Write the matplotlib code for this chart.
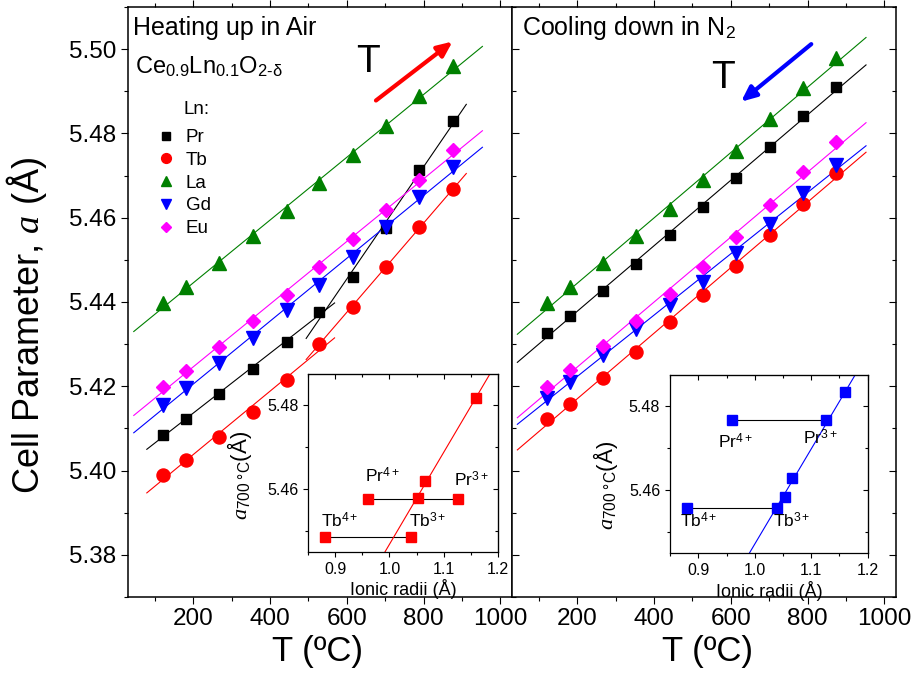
import matplotlib
matplotlib.use("Agg")
import matplotlib.pyplot as plt
import numpy as np
from matplotlib.ticker import MultipleLocator

plt.rcParams["font.family"] = ["Liberation Sans", "DejaVu Sans"]
plt.rcParams["mathtext.fontset"] = "custom"
plt.rcParams["mathtext.rm"] = "Liberation Sans"
plt.rcParams["mathtext.it"] = "Liberation Serif:italic"
plt.rcParams["mathtext.sf"] = "Liberation Sans"
plt.rcParams["mathtext.bf"] = "Liberation Sans:bold"

# heating up in air
t_heat = [120, 181, 266, 355, 444, 527, 616, 702, 789, 877]
pr_heat = [5.4084, 5.4122, 5.4182, 5.4241, 5.4306, 5.4375, 5.4460, 5.4576, 5.4713, 5.4830]
tb_heat = [5.3989, 5.4025, 5.4080, 5.4140, 5.4215, 5.4300, 5.4389, 5.4484, 5.4579, 5.4667]
la_heat = [5.4398, 5.4435, 5.4492, 5.4557, 5.4616, 5.4683, 5.4749, 5.4818, 5.4889, 5.4960]
gd_heat = [5.4156, 5.4195, 5.4255, 5.4315, 5.4381, 5.4440, 5.4507, 5.4579, 5.4650, 5.4721]
eu_heat = [5.4198, 5.4237, 5.4294, 5.4356, 5.4417, 5.4482, 5.4549, 5.4618, 5.4689, 5.4761]

# cooling down in N2
t_cool = [120, 180, 267, 354, 441, 527, 614, 701, 788, 875]
pr_cool = [5.4327, 5.4367, 5.4427, 5.4490, 5.4559, 5.4625, 5.4695, 5.4768, 5.4841, 5.4909]
tb_cool = [5.4122, 5.4158, 5.4219, 5.4282, 5.4352, 5.4417, 5.4486, 5.4559, 5.4633, 5.4705]
la_cool = [5.4397, 5.4435, 5.4492, 5.4557, 5.4620, 5.4689, 5.4758, 5.4834, 5.4907, 5.4978]
gd_cool = [5.4173, 5.4211, 5.4274, 5.4336, 5.4393, 5.4448, 5.4516, 5.4585, 5.4658, 5.4725]
eu_cool = [5.4199, 5.4239, 5.4296, 5.4356, 5.4418, 5.4484, 5.4555, 5.4630, 5.4709, 5.4780]

# ionic radii (A), 8-fold coordination
r_pr4, r_pr3 = 0.96, 1.126
r_tb4, r_tb3 = 0.88, 1.04
r_la, r_gd, r_eu = 1.16, 1.053, 1.066
i700 = 7  # index of the ~700 C point

series = [("Pr", "s", "black", 7.4), ("Tb", "o", "red", 9.4), ("La", "^", "#008000", 10),
          ("Gd", "v", "blue", 10), ("Eu", "D", "magenta", 7)]


def fit_line(ax, t, y, t0, t1, color):
    p = np.polyfit(t, y, 1)
    tt = np.array([t0, t1])
    ax.plot(tt, np.polyval(p, tt), color=color, lw=0.8, zorder=2)


def style_main(ax):
    ax.set_xlim(30, 1030)
    ax.set_ylim(5.37, 5.51)
    ax.xaxis.set_major_locator(MultipleLocator(200))
    ax.xaxis.set_minor_locator(MultipleLocator(100))
    ax.yaxis.set_major_locator(MultipleLocator(0.02))
    ax.yaxis.set_minor_locator(MultipleLocator(0.01))
    ax.xaxis.set_major_formatter(plt.FuncFormatter(lambda v, p: f"{v:.0f}"))
    ax.yaxis.set_major_formatter(plt.FuncFormatter(lambda v, p: f"{v:.2f}"))
    ax.tick_params(axis="x", which="both", direction="out", top=True, labelsize=17.5, width=0.8)
    ax.tick_params(which="major", length=4.8)
    ax.tick_params(which="minor", length=2.9)
    for s in ax.spines.values():
        s.set_linewidth(1.1)
    ax.set_xlabel("T (ºC)", fontsize=25)


def inset(fig, rect, a_pr, a_tb, a_la, a_gd, a_eu, color, labpos):
    ax = fig.add_axes(rect)
    ax.plot([r_pr4, r_pr3], [a_pr, a_pr], color="black", lw=0.8, zorder=2)
    ax.plot([r_tb4, r_tb3], [a_tb, a_tb], color="black", lw=0.8, zorder=2)
    rr = [r_gd, r_eu, r_la]
    p = np.polyfit(rr, [a_gd, a_eu, a_la], 1)
    xx = np.array([0.85, 1.2])
    ax.plot(xx, np.polyval(p, xx), color=color, lw=0.8, zorder=2)
    ax.plot([r_pr4, r_pr3, r_tb4, r_tb3, r_gd, r_eu, r_la],
            [a_pr, a_pr, a_tb, a_tb, a_gd, a_eu, a_la],
            "s", color=color, ms=7, mec=color, zorder=3, clip_on=False)
    for txt, (x, y) in zip(["Pr$^{4+}$", "Pr$^{3+}$", "Tb$^{4+}$", "Tb$^{3+}$"], labpos):
        ax.text(x, y, txt, fontsize=12.5, ha="left", va="baseline")
    ax.set_xlim(0.85, 1.2)
    ax.set_ylim(5.445, 5.4875)
    ax.xaxis.set_major_locator(MultipleLocator(0.1))
    ax.xaxis.set_minor_locator(MultipleLocator(0.05))
    ax.yaxis.set_major_locator(MultipleLocator(0.02))
    ax.yaxis.set_minor_locator(MultipleLocator(0.01))
    ax.xaxis.set_major_formatter(plt.FuncFormatter(lambda v, p: f"{v:.1f}"))
    ax.yaxis.set_major_formatter(plt.FuncFormatter(lambda v, p: f"{v:.2f}"))
    ax.tick_params(which="both", direction="out", labelsize=11.5, width=0.8)
    ax.tick_params(which="major", length=3.6)
    ax.tick_params(which="minor", length=2.2)
    top = ax.secondary_xaxis("top")
    top.xaxis.set_major_locator(MultipleLocator(0.1))
    top.xaxis.set_minor_locator(MultipleLocator(0.05))
    top.tick_params(which="both", direction="in", labeltop=False, width=0.8)
    top.tick_params(which="major", length=3.6)
    top.tick_params(which="minor", length=2.2)
    right = ax.secondary_yaxis("right")
    right.yaxis.set_major_locator(MultipleLocator(0.02))
    right.yaxis.set_minor_locator(MultipleLocator(0.01))
    right.tick_params(which="both", direction="in", labelright=False, width=0.8)
    right.tick_params(which="major", length=3.6)
    right.tick_params(which="minor", length=2.2)
    for s in ax.spines.values():
        s.set_linewidth(0.9)
    ax.set_xlabel("Ionic radii (Å)", fontsize=13, labelpad=2)
    ax.set_ylabel(r"$a_{\mathrm{700\ °C}}$(Å)", fontsize=16)
    return ax


fig = plt.figure(figsize=(9.11, 6.75), dpi=100)
ax1 = fig.add_axes([0.1405, 0.1156, 0.4215, 0.8741])
ax2 = fig.add_axes([0.5620, 0.1156, 0.4215, 0.8741])

# left: heating
heat = [pr_heat, tb_heat, la_heat, gd_heat, eu_heat]
for (name, mk, col, ms), y in zip(series, heat):
    ax1.plot(t_heat, y, mk, color=col, ms=ms, mec=col, label=name, zorder=3)
    if name in ("Pr", "Tb"):
        fit_line(ax1, t_heat[:6], y[:6], 79, 568, col)
        fit_line(ax1, t_heat[5:], y[5:], 494, 911, col)
    else:
        fit_line(ax1, t_heat, y, 45, 953, col)

# right: cooling
cool = [pr_cool, tb_cool, la_cool, gd_cool, eu_cool]
for (name, mk, col, ms), y in zip(series, cool):
    ax2.plot(t_cool, y, mk, color=col, ms=ms, mec=col, zorder=3)
    fit_line(ax2, t_cool, y, 44, 952, col)

style_main(ax1)
style_main(ax2)
ax1.tick_params(axis="y", which="both", direction="out", left=True, right=False, labelsize=17.5, width=0.8)
ax2.tick_params(axis="y", which="both", direction="in", left=True, right=True, labelleft=False, width=0.8)
ax1.set_ylabel(r"Cell Parameter, $a$ (Å)", fontsize=26)
ax1.yaxis.set_label_coords(-0.205, 0.46)
ax1.xaxis.set_label_coords(0.4935, -0.064)
ax2.xaxis.set_label_coords(0.509, -0.064)

ax1.text(0.013, 0.964, "Heating up in Air", transform=ax1.transAxes, fontsize=18, va="center")
ax1.text(0.018, 0.898, r"Ce$_{\mathrm{0.9}}$Ln$_{\mathrm{0.1}}$O$_{\mathrm{2\text{-}δ}}$",
         transform=ax1.transAxes, fontsize=17, va="center")
ax1.text(0.626, 0.907, "T", transform=ax1.transAxes, fontsize=28, ha="center", va="center")
ax1.annotate("", xy=(881, 5.5022), xytext=(670, 5.4874),
             arrowprops=dict(arrowstyle="-|>,head_length=0.9,head_width=0.4", color="red", lw=3))
ax1.text(0.144, 0.827, "Ln:", transform=ax1.transAxes, fontsize=13.5, va="center")
ax1.legend(loc="upper left", bbox_to_anchor=(0.0766, 0.793), frameon=False, fontsize=13.5,
           markerscale=0.75, handlelength=0.9, handletextpad=0.6, labelspacing=0.3,
           borderpad=0, borderaxespad=0)

ax2.text(0.026, 0.964, "Cooling down in N$_{\\mathrm{2}}$", transform=ax2.transAxes, fontsize=18, va="center")
ax2.text(0.549, 0.879, "T", transform=ax2.transAxes, fontsize=28, ha="center", va="center")
ax2.annotate("", xy=(621, 5.4871), xytext=(815, 5.5016),
             arrowprops=dict(arrowstyle="-|>,head_length=0.9,head_width=0.4", color="blue", lw=3))

# insets: lattice parameter at 700 C vs ionic radius
axi1 = inset(fig, [0.3384, 0.1827, 0.2079, 0.2633],
             pr_heat[i700], tb_heat[i700], la_heat[i700], gd_heat[i700], eu_heat[i700], "red",
             [(0.954, 5.4615), (1.1195, 5.4605), (0.8735, 5.4508), (1.036, 5.4508)])
axi1.yaxis.set_label_coords(-0.285, 0.43)
axi2 = inset(fig, [0.7355, 0.1803, 0.2170, 0.2641],
             pr_cool[i700], tb_cool[i700], la_cool[i700], gd_cool[i700], eu_cool[i700], "blue",
             [(0.9355, 5.4701), (1.0862, 5.4709), (0.8676, 5.4511), (1.033, 5.4511)])
axi2.yaxis.set_label_coords(-0.253, 0.383)

fig.savefig("out.png", dpi=100)
